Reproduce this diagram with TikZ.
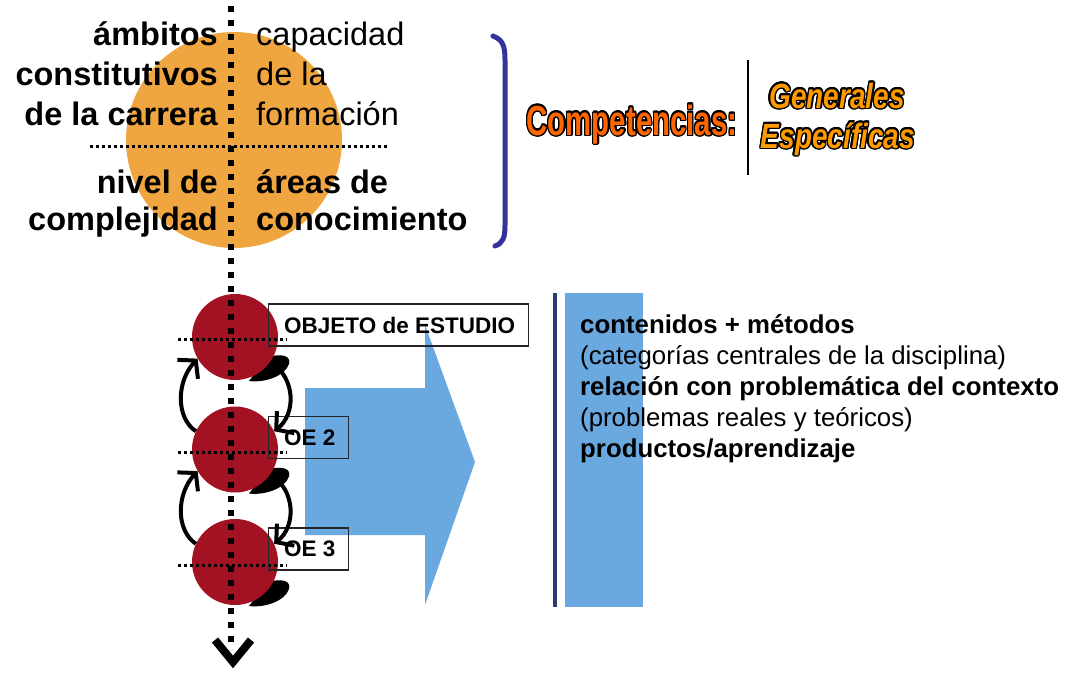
\documentclass[tikz,border=0pt]{standalone}
\usepackage{fontspec}
\setmainfont{Liberation Sans}
\usepackage{graphicx}
\usepackage{contour}
\contourlength{1.8pt}
\usetikzlibrary{arrows.meta}
\definecolor{orangec}{RGB}{240,166,64}
\definecolor{redc}{RGB}{163,18,35}
\definecolor{bluec}{RGB}{106,168,224}
\definecolor{navyc}{RGB}{40,62,110}
\definecolor{bracketc}{RGB}{51,51,153}
\definecolor{compc}{RGB}{255,102,0}
\definecolor{genc}{RGB}{255,153,0}
\begin{document}
\begin{tikzpicture}[x=1pt,y=-1pt,
  lt/.style={inner sep=0pt, anchor=base east, font=\fontsize{32.5}{39}\selectfont\bfseries},
  rtr/.style={inner sep=0pt, anchor=base west, font=\fontsize{32.5}{39}\selectfont},
  rtb/.style={inner sep=0pt, anchor=base west, font=\fontsize{32.5}{39}\selectfont\bfseries},
  redcirc/.style={circle, fill=redc, minimum size=86pt, inner sep=0pt},
  obox/.style={draw=black!85, line width=1.2pt, inner ysep=0pt, anchor=west,
     minimum height=42pt},
  boxtxt/.style={inner sep=0pt, anchor=west, font=\fontsize{22.5}{26}\selectfont\bfseries},
  thindots/.style={line width=3pt, dash pattern=on 2.5pt off 3.5pt},
  bigdots/.style={line width=6pt, dash pattern=on 6pt off 8pt},
  curvarrow/.style={line width=4pt, -{Straight Barb[length=12pt,width=28pt,line width=4pt]}},
  ptxt/.style={inner sep=0pt, anchor=base west, font=\fontsize{25.8}{31}\selectfont},
  ptxtb/.style={inner sep=0pt, anchor=base west, font=\fontsize{25.8}{31}\selectfont\bfseries}
]
\useasboundingbox (0,0) rectangle (1068,672);
\fill[white] (0,0) rectangle (1068,672);

% orange circle with texts
\node[circle, fill=orangec, minimum size=216pt, inner sep=0pt] (oc) at (234,140) {};
\coordinate (hl) at (90,146);
\coordinate (hr) at (388,146);
\draw[thindots] (hl) -- (hr);
\node[lt] (l1) at (218,45) {ámbitos};
\node[lt] (l2) at (218,85) {constitutivos};
\node[lt] (l3) at (218,125) {de la carrera};
\node[lt] (l4) at (218,193) {nivel de};
\node[lt] (l5) at (218,230) {complejidad};
\node[rtr] (r1) at (256,45) {capacidad};
\node[rtr] (r2) at (256,85) {de la};
\node[rtr] (r3) at (256,125) {formación};
\node[rtb] (r4) at (256,193) {áreas de};
\node[rtb] (r5) at (256,230) {conocimiento};

% bracket
\draw[bracketc, line width=5pt, line cap=round] (493,36) .. controls (503,40) and (505,46) .. (505,60) -- (505,225) .. controls (505,238) and (503,243) .. (495,246);

% competencias
\node[inner sep=0pt, anchor=base, font=\fontsize{42}{48}\selectfont\bfseries] (comp) at (632,135)
  {\scalebox{0.7}[1]{\contour{black}{\textcolor{compc}{Competencias:}}}};
\coordinate (st) at (748,60);
\coordinate (sb) at (748,175);
\draw[line width=1.3pt] (st) -- (sb);
\node[inner sep=0pt, anchor=base, font=\fontsize{35}{40}\selectfont\bfseries\itshape] (gen) at (837,108)
  {\scalebox{0.8}[1]{\contour{black}{\textcolor{genc}{Generales}}}};
\node[inner sep=0pt, anchor=base, font=\fontsize{35}{40}\selectfont\bfseries\itshape] (esp) at (838,148)
  {\scalebox{0.8}[1]{\contour{black}{\textcolor{genc}{Específicas}}}};

% blue arrow
\fill[bluec] (305,388) -- (425,388) -- (425,325) -- (475,462) -- (425,605) -- (425,535) -- (305,535) -- cycle;

% shadows and red circles
\foreach \cy in {337,449.5,562} {
  \fill[black, shift={(235,\cy)}] (14,44) .. controls (30,46) and (50,39) .. (54,27) .. controls (56,19) and (48,16) .. (32,20) -- cycle;
}
\node[redcirc] (c1) at (235,337) {};
\node[redcirc] (c2) at (235,449.5) {};
\node[redcirc] (c3) at (235,562) {};
\draw[thindots] (178,339) -- (287,339);
\draw[thindots] (178,452) -- (287,452);
\draw[thindots] (178,565) -- (287,565);

% boxes
\node[obox, minimum width=260pt] (ob1) at (268,325) {};
\node[boxtxt] (t1) at (284,325) {OBJETO de ESTUDIO};
\node[obox, minimum width=80pt] (ob2) at (268,437.5) {};
\node[boxtxt] (t2) at (284,437.5) {OE 2};
\node[obox, minimum width=80pt] (ob3) at (268,549) {};
\node[boxtxt] (t3) at (284,549) {OE 3};

% curved arrows
\draw[curvarrow] (c2.155) .. controls (176,418) and (176,382) .. (c1.210);
\draw[curvarrow] (c1.325) .. controls (296,378) and (296,414) .. (c2.25);
\draw[curvarrow] (c3.155) .. controls (176,530.5) and (176,494.5) .. (c2.210);
\draw[curvarrow] (c2.325) .. controls (296,490.5) and (296,526.5) .. (c3.25);

% vertical dotted axis
\coordinate (vt) at (231,6);
\coordinate (vb) at (231,650);
\draw[bigdots] (vt) -- (vb);
\draw[line width=8pt, miter limit=10] (215,640) -- (233,662) -- (251,640);

% right panel
\coordinate (nt) at (555,293);
\coordinate (nb) at (555,607);
\draw[navyc, line width=4pt] (nt) -- (nb);
\fill[bluec] (565,293) rectangle (643,607);
\node[ptxtb] (p1) at (580,333) {contenidos + métodos};
\node[ptxt] (p2) at (580,364) {(categorías centrales de la disciplina)};
\node[ptxtb] (p3) at (580,395) {relación con problemática del contexto};
\node[ptxt] (p4) at (580,426) {(problemas reales y teóricos)};
\node[ptxtb] (p5) at (580,457) {productos/aprendizaje};
\end{tikzpicture}
\end{document}
